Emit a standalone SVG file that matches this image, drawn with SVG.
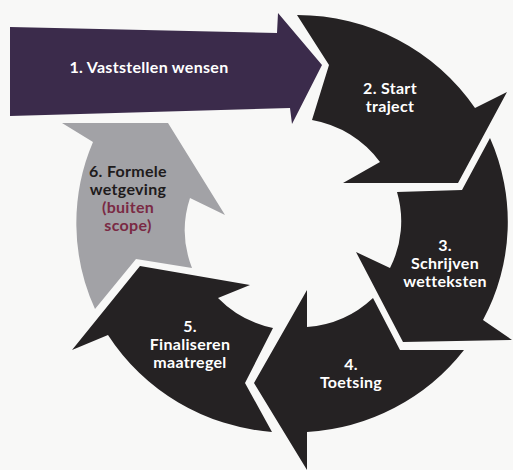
<svg xmlns="http://www.w3.org/2000/svg" width="513" height="470" viewBox="0 0 513 470">
  <style>
    .seg { fill: #252223; }
    .purple { fill: #3b2b4b; }
    .grey { fill: #a2a2a6; }
    .lbl { font-family: Lato, "Liberation Sans", sans-serif; font-weight: 700; font-size: 16px; text-anchor: middle; letter-spacing: 0.3px; }
    .w { fill: #ffffff; }
    .k { fill: #1e1b1c; }
    .r { fill: #7a2a44; }
  </style>
  <rect x="0" y="0" width="513" height="470" fill="#f8f8f7"/>

  <g id="step1">
    <path class="purple" d="M10,27 L277,33 L278,13 L322,65 L292,124 L290,108 L10,116 Z"/>
    <text class="lbl w" x="149" y="73">1. Vaststellen wensen</text>
  </g>

  <g id="step2">
    <path class="seg" d="M297,15 A214,210 0 0 1 475,108 L507,92 L458,183 L343,183 L380,162 A107,105 0 0 0 312,120 L329,65 Z"/>
    <text class="lbl w" x="390" y="94">2. Start</text>
    <text class="lbl w" x="390" y="112">traject</text>
  </g>

  <g id="step3">
    <path class="seg" d="M490,138 A214,210 0 0 1 483,320 L512,340 L403,342 L356,252 L390,268 A107,105 0 0 0 397,192 L462,190 Z"/>
    <text class="lbl w" x="445" y="251">3.</text>
    <text class="lbl w" x="445" y="269">Schrijven</text>
    <text class="lbl w" x="445" y="287">wetteksten</text>
  </g>

  <g id="step4">
    <path class="seg" d="M464,350 A214,210 0 0 1 307,432 L307,470 L254,383 L307,290 L307,327 A107,105 0 0 0 373,298 L400,350 Z"/>
    <text class="lbl w" x="351" y="370">4.</text>
    <text class="lbl w" x="351" y="388">Toetsing</text>
  </g>

  <g id="step5">
    <path class="seg" d="M272,432 A214,210 0 0 1 108,335 L72,350 L140,266 L250,285 L218,298 A107,105 0 0 0 273,328 L245,383 Z"/>
    <text class="lbl w" x="190" y="332">5.</text>
    <text class="lbl w" x="190" y="350">Finaliseren</text>
    <text class="lbl w" x="190" y="368">maatregel</text>
  </g>

  <g id="step6">
    <path class="grey" d="M95,309 A214,210 0 0 1 93,142 L62,123 L168,123 L225,215 L190,198 A107,105 0 0 0 192,268 L136,259 Z"/>
    <text class="lbl k" x="128" y="177">6. Formele</text>
    <text class="lbl k" x="128" y="195">wetgeving</text>
    <text class="lbl r" x="128" y="213">(buiten</text>
    <text class="lbl r" x="128" y="231">scope)</text>
  </g>

  <g id="connectors"/>
</svg>
